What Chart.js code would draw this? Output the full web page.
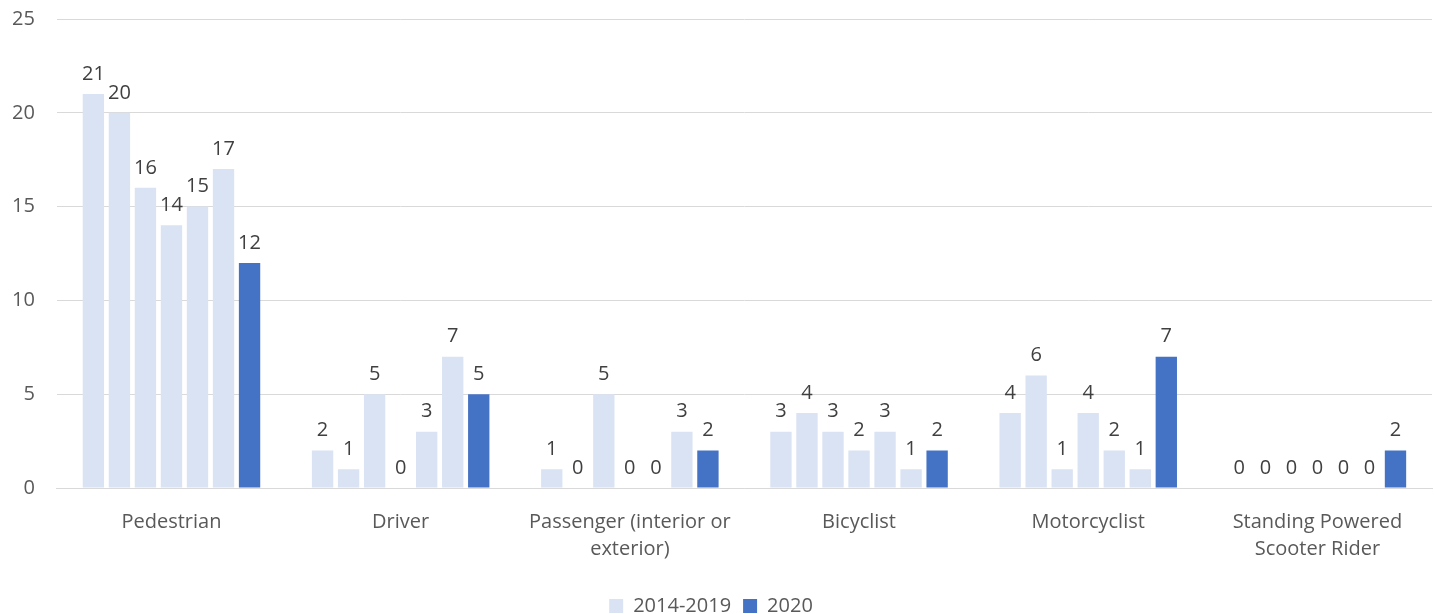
<!DOCTYPE html>
<html><head><meta charset="utf-8">
<script src="https://cdn.jsdelivr.net/npm/chart.js@4.4.1/dist/chart.umd.min.js"></script>
<style>html,body{margin:0;padding:0;background:#fff}#w{width:1434px;height:614px}</style>
</head><body><div id="w"><canvas id="c" width="1434" height="614"></canvas></div>
<script>
const categories = [["Pedestrian"],["Driver"],["Passenger (interior or","exterior)"],["Bicyclist"],["Motorcyclist"],["Standing Powered","Scooter Rider"]];
const y2014 = [21,2,1,3,4,0];
const y2015 = [20,1,0,4,6,0];
const y2016 = [16,5,5,3,1,0];
const y2017 = [14,0,0,2,4,0];
const y2018 = [15,3,0,3,2,0];
const y2019 = [17,7,3,1,1,0];
const y2020 = [12,5,2,2,7,2];
const yTicks = [0,5,10,15,20,25];
const light = '#DAE3F3', dark = '#4472C4';
const FONT = 'Open Sans, Lato, sans-serif';
const FS = 20;

const labelPlugin = {
  id:'vals',
  afterDatasetsDraw(chart){
    const ctx = chart.ctx;
    ctx.save();
    ctx.font = FS + 'px ' + FONT;
    ctx.fillStyle = '#404040';
    ctx.textAlign = 'center';
    ctx.textBaseline = 'bottom';
    chart.data.datasets.forEach((ds,i)=>{
      const meta = chart.getDatasetMeta(i);
      meta.data.forEach((bar,j)=>{
        ctx.fillText(String(ds.data[j]), bar.x, bar.y - 10);
      });
    });
    ctx.restore();
  }
};

const mk = (label,data,color)=>({label,data,backgroundColor:color,categoryPercentage:0.795,barPercentage:0.82});
new Chart(document.getElementById('c'),{
  type:'bar',
  data:{labels:categories,datasets:[
    mk('2014-2019',y2014,light),mk('2015',y2015,light),mk('2016',y2016,light),
    mk('2017',y2017,light),mk('2018',y2018,light),mk('2019',y2019,light),mk('2020',y2020,dark)
  ]},
  options:{
    responsive:false,animation:false,
    layout:{padding:{top:19,right:2,left:-10,bottom:-12}},
    plugins:{
      legend:{position:'bottom',labels:{
        filter:(it)=>it.datasetIndex===0||it.datasetIndex===6,
        boxWidth:14,boxHeight:14,color:'#595959',font:{family:FONT,size:FS},padding:12
      }},
      tooltip:{enabled:false}
    },
    scales:{
      x:{grid:{display:false,drawTicks:false},border:{color:'#D9D9D9',width:1},
         ticks:{color:'#595959',font:{family:FONT,size:FS,lineHeight:1.35},padding:21,maxRotation:0}},
      y:{min:0,max:25,afterBuildTicks:(ax)=>{ax.ticks=yTicks.map(v=>({value:v}));},
         afterFit:(s)=>{s.paddingTop=0;},
         grid:{color:'#D9D9D9',drawTicks:false},border:{display:false},
         ticks:{color:'#595959',font:{family:FONT,size:FS},padding:22}}
    }
  },
  plugins:[labelPlugin]
});
</script></body></html>
